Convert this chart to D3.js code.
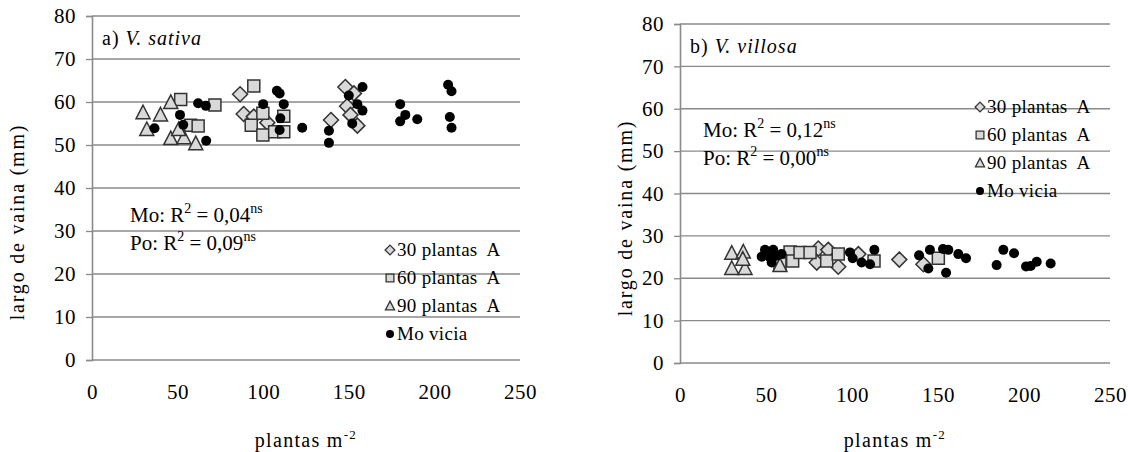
<!DOCTYPE html>
<html>
<head>
<meta charset="utf-8">
<script src="https://cdn.jsdelivr.net/npm/d3@7"></script>
<style>
  html, body { margin: 0; padding: 0; background: #fff; }
  svg, svg text { font-family: "Liberation Serif", "Times New Roman", serif; }
  text { white-space: pre; }
</style>
</head>
<body>
<svg id="chart" width="1128" height="452"></svg>
<script>
// Pod length (mm) against vetch density (plants m-2), V. sativa
const sativa30 = [[86.5,61.8],[88.6,57.2],[94.5,56.6],[102.4,55.2],[139.6,55.8],[148,63.5],[149,59],[153,62],[155,54.5],[151,57]];
const sativa60 = [[51.8,60.6],[71.8,59.3],[57.6,54.6],[62,54.4],[94.5,63.7],[99.8,57.4],[93,54.6],[99.8,52.3],[106.7,53.1],[112,56.7],[112,53.1]];
const sativa90 = [[29.8,57.5],[32,53.6],[40,57],[46,59.9],[46,51.5],[53.7,51.7],[60.6,50.3],[50.6,53.6]];
const sativaMo = [[36.5,53.9],[51.4,57],[53.3,54.7],[62,59.7],[66.5,59.1],[66.7,51],[108,62.6],[109.6,62],[100,59.5],[112,59.5],[110,56.2],[109.6,53.5],[122.8,54],[138.4,53.3],[138.4,50.5],
  [150,61.5],[152,55],[155,59.5],[158,63.5],[158,58],[180,59.5],[183,57],[180,55.5],[190,56],[208,64],[210,62.5],[209,56.5],[210,54]];

// Pod length (mm) against vetch density (plants m-2), V. villosa
const villosa30 = [[79.5,23.7],[80.4,27],[86.2,26.7],[92,22.7],[103.7,25.7],[127.5,24.4],[141.5,23.3]];
const villosa60 = [[58.1,23.5],[64,26.2],[65.5,24.1],[69.8,26.1],[75.6,26.1],[85.3,24.1],[92,25.7],[112.8,24.1],[150.2,24.7]];
const villosa90 = [[30.1,25.9],[36.8,26.2],[30.1,22.3],[37.8,22.3],[36.5,24.5],[58.1,23]];
const villosaMo = [[49.4,26.7],[54.2,26.7],[47.5,25.1],[52.3,24.9],[56.2,25.3],[59.1,25.7],[53.3,23.7],[98.8,26.1],[100.4,24.7],[105.6,23.7],[110.5,23.3],[113,26.7],
  [139,25.4],[145.3,26.7],[144.4,22.3],[152.9,26.9],[156,26.7],[161.8,25.7],[166.3,24.7],[154.7,21.3],[184.1,23.1],[188,26.7],[194.2,25.9],[201.2,22.8],[203.9,22.9],[207.4,23.9],[215.5,23.5]];

const xTicks = [0, 50, 100, 150, 200, 250];
const yTicks = [0, 10, 20, 30, 40, 50, 60, 70, 80];
const legendLabels = ["30 plantas  A", "60 plantas  A", "90 plantas  A", "Mo vicia"];

const FONT = "Liberation Serif";
const svg = d3.select("#chart");
const root = svg.append("g").attr("font-family", FONT);
const GRID = "#8a8a8a";
const FILL = "#d9d9d9";
const EDGE = "#333";

// marker path generators centred on 0,0
function markerPath(kind) {
  if (kind === "diamond") return "M0,-7.5L7.5,0L0,7.5L-7.5,0Z";
  if (kind === "square") return "M-6,-6H6V6H-6Z";
  if (kind === "triangle") return "M0,-7.5L7,6L-7,6Z";
  return null;
}

function drawMarker(g, kind, x, y) {
  if (kind === "dot") {
    g.append("circle").attr("cx", x).attr("cy", y).attr("r", 5).attr("fill", "#000");
  } else {
    g.append("path").attr("d", markerPath(kind))
      .attr("transform", `translate(${x},${y})`)
      .attr("fill", FILL).attr("stroke", EDGE).attr("stroke-width", 1.5);
  }
}

function drawPanel(p) {
  const x = d3.scaleLinear().domain([0, 250]).range([p.left, p.right]);
  const y = d3.scaleLinear().domain([0, 80]).range([p.bottom, p.top]);
  const g = root.append("g");

  // horizontal gridlines
  g.append("g").selectAll("line").data(yTicks).join("line")
    .attr("x1", p.left).attr("x2", p.right)
    .attr("y1", d => y(d)).attr("y2", d => y(d))
    .attr("stroke", GRID).attr("stroke-width", 1.3);

  // y axis
  const ya = g.append("g").attr("transform", `translate(${p.left},0)`)
    .call(d3.axisLeft(y).tickValues(yTicks).tickSize(6).tickPadding(10));
  ya.attr("font-family", FONT);
  ya.select(".domain").attr("stroke", GRID).attr("stroke-width", 1.6);
  ya.selectAll(".tick line").attr("stroke", GRID).attr("stroke-width", 1.3);
  ya.selectAll(".tick text").attr("font-size", 21).attr("fill", "#000")
    .attr("letter-spacing", 0.5);

  // x axis labels
  const xa = g.append("g").attr("transform", `translate(0,${p.bottom})`)
    .call(d3.axisBottom(x).tickValues(xTicks).tickSize(0).tickPadding(24));
  xa.attr("font-family", FONT);
  xa.select(".domain").remove();
  xa.selectAll(".tick text").attr("font-size", 21).attr("fill", "#000")
    .attr("letter-spacing", 0.5);

  // axis titles
  g.append("text")
    .attr("transform", `translate(${p.yTitleX},${p.yTitleY}) rotate(-90)`)
    .attr("text-anchor", "middle").attr("font-size", 20).attr("letter-spacing", 1.8)
    .text("largo de vaina (mm)");
  const xt = g.append("text").attr("x", (p.left + p.right) / 2).attr("y", p.xTitleY)
    .attr("text-anchor", "middle").attr("font-size", 20).attr("letter-spacing", 1.3);
  xt.append("tspan").text("plantas m");
  xt.append("tspan").attr("dy", -8).attr("font-size", 13).text("-2");

  // panel title
  const tt = g.append("text").attr("x", p.left + 10).attr("y", p.top + 29)
    .attr("font-size", 20).attr("letter-spacing", 1);
  tt.append("tspan").text(p.letter + " ");
  tt.append("tspan").attr("font-style", "italic").text(p.species);

  // R² annotations
  p.r2.forEach((r, i) => {
    const t = g.append("text").attr("x", p.r2x).attr("y", p.r2y + i * 28).attr("font-size", 21);
    t.append("tspan").text(r[0] + ": R");
    t.append("tspan").attr("dy", -9).attr("font-size", 14).text("2");
    t.append("tspan").attr("dy", 9).text(" = " + r[1]);
    t.append("tspan").attr("dy", -9).attr("font-size", 14).text("ns");
  });

  // data points
  const kinds = ["diamond", "square", "triangle", "dot"];
  p.series.forEach((s, i) => {
    const sg = g.append("g");
    s.forEach(d => drawMarker(sg, kinds[i], x(d[0]), y(d[1])));
  });

  // legend
  legendLabels.forEach((lab, i) => {
    const ly = p.legY + i * p.legStep;
    const lg = g.append("g");
    if (kinds[i] === "dot") {
      lg.append("circle").attr("cx", p.legX).attr("cy", ly).attr("r", 4).attr("fill", "#000");
    } else {
      lg.append("path").attr("d", markerPath(kinds[i]))
        .attr("transform", `translate(${p.legX},${ly}) scale(0.65)`)
        .attr("fill", FILL).attr("stroke", EDGE).attr("stroke-width", 2);
    }
    lg.append("text").attr("x", p.legX + 7).attr("y", ly + 6).attr("font-size", 19)
      .attr("letter-spacing", 0.3).text(lab);
  });
}

drawPanel({
  left: 92, right: 520, top: 16, bottom: 360,
  yTitleX: 24, yTitleY: 222, xTitleY: 447,
  letter: "a)", species: "V. sativa",
  r2: [["Mo", "0,04"], ["Po", "0,09"]], r2x: 130, r2y: 222,
  legX: 390, legY: 250, legStep: 28,
  series: [sativa30, sativa60, sativa90, sativaMo]
});

drawPanel({
  left: 680, right: 1110, top: 24, bottom: 363,
  yTitleX: 632, yTitleY: 218, xTitleY: 447,
  letter: "b)", species: "V. villosa",
  r2: [["Mo", "0,12"], ["Po", "0,00"]], r2x: 703, r2y: 137,
  legX: 980, legY: 107, legStep: 28,
  series: [villosa30, villosa60, villosa90, villosaMo]
});
</script>
</body>
</html>
